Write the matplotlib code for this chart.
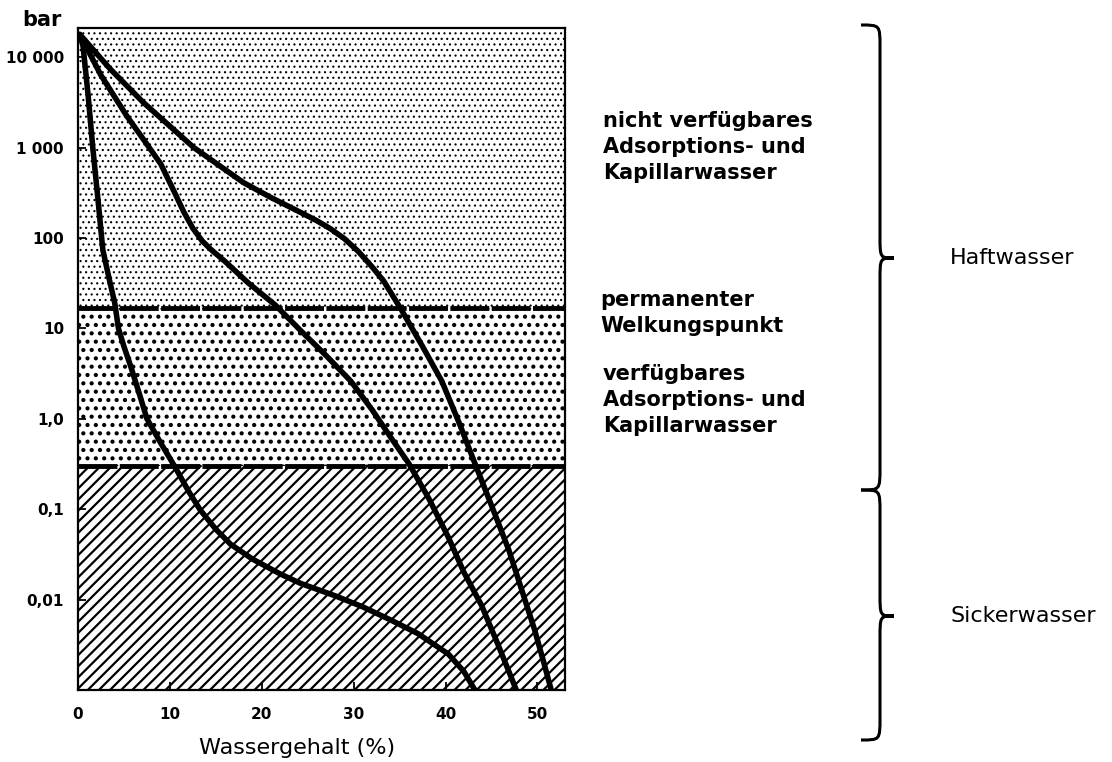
import matplotlib
matplotlib.use('Agg')
import matplotlib.pyplot as plt
from matplotlib.path import Path
from matplotlib.patches import PathPatch

# Saugspannung (bar) gegen Wassergehalt (%) fuer drei Boeden
sand_x = [0.2, 0.55, 1.1, 1.6, 2.2, 2.7, 3.4, 4.0, 4.4, 5.0, 5.7, 6.6, 7.5,
          9.0, 10.5, 12.0, 13.3, 15.0, 16.6, 19.0, 22.1, 24.3, 28.0, 31.0,
          34.1, 37.0, 40.3, 42.0, 43.2]
sand_y = [17800, 13200, 3800, 1020, 250, 74, 35, 19, 10, 6.3, 3.9, 2.0, 1.0,
          0.54, 0.30, 0.16, 0.098, 0.060, 0.041, 0.028, 0.019, 0.015, 0.011,
          0.0083, 0.0059, 0.0042, 0.0025, 0.0016, 0.001]

lehm_x = [0.2, 2.5, 5.3, 7.2, 9.0, 10.5, 11.5, 12.5, 13.5, 14.5, 16.0, 18.5,
          21.5, 24.3, 27.0, 29.7, 32.0, 34.0, 36.0, 38.2, 40.3, 42.0, 43.9,
          45.7, 47.7]
lehm_y = [17800, 6300, 2240, 1200, 660, 320, 195, 128, 93, 74, 55, 32,
          18, 9.3, 5.0, 2.6, 1.26, 0.63, 0.32, 0.13, 0.049, 0.020, 0.0087,
          0.0032, 0.001]

ton_x = [0.2, 3.5, 7.1, 12.6, 18.0, 21.0, 24.3, 26.0, 27.5, 29.0, 30.5, 32.0,
         33.3, 35.2, 37.5, 39.6, 41.5, 43.2, 45.0, 46.9, 48.5, 49.7, 50.7,
         51.5]
ton_y = [17800, 7400, 3160, 1000, 410, 280, 190, 155, 126, 98, 71, 48,
         33, 16, 6.3, 2.6, 0.89, 0.32, 0.11, 0.035, 0.011, 0.0046, 0.002,
         0.001]

# Grenzen: permanenter Welkungspunkt und Feldkapazitaet
pwp = 17
fk = 0.3

ytick_vals = [10000, 1000, 100, 10, 1, 0.1, 0.01]
ytick_labels = ['10 000', '1 000', '100', '10', '1,0', '0,1', '0,01']
xtick_vals = [0, 10, 20, 30, 40, 50]

W, H = 1112, 762
fig = plt.figure(figsize=(W / 100, H / 100), dpi=100)
ax = fig.add_axes([78 / W, 1 - 690 / H, (565 - 78) / W, (690 - 28) / H])
ax.set_yscale('log')
ax.set_xlim(0, 53)
ax.set_ylim(1e-3, 2.1e4)

# Flaechen mit Raster
with plt.rc_context({'hatch.linewidth': 0.8}):
    ax.axhspan(pwp, 2.1e4, facecolor='white', edgecolor='black', lw=0,
               hatch='...', zorder=0)
with plt.rc_context({'hatch.linewidth': 1.8}):
    ax.axhspan(fk, pwp, facecolor='white', edgecolor='black', lw=0,
               hatch='..', zorder=0)
with plt.rc_context({'hatch.linewidth': 1.6}):
    ax.axhspan(1e-3, fk, facecolor='white', edgecolor='black', lw=0,
               hatch='///', zorder=0)

ax.axhline(pwp, color='black', lw=3.5, dashes=(8, 0.5), zorder=2)
ax.axhline(fk, color='black', lw=3.5, dashes=(8, 0.5), zorder=2)

for xs, ys in [(sand_x, sand_y), (lehm_x, lehm_y), (ton_x, ton_y)]:
    ax.plot(xs, ys, color='black', lw=4, solid_capstyle='round',
            solid_joinstyle='round', zorder=3)

for s in ax.spines.values():
    s.set_linewidth(1.6)
ax.set_yticks(ytick_vals)
ax.set_yticklabels(ytick_labels)
ax.yaxis.set_minor_locator(matplotlib.ticker.NullLocator())
ax.set_xticks(xtick_vals)
ax.tick_params(direction='in', length=6, width=1.3, labelsize=11, pad=10)
ax.tick_params(axis='x', pad=12)
for lab in ax.get_xticklabels() + ax.get_yticklabels():
    lab.set_fontweight('bold')

fig.text(42 / W, 1 - 20 / H, 'bar', ha='center', va='center',
         fontsize=15, fontweight='bold')
fig.text(297 / W, 1 - 748 / H, 'Wassergehalt (%)', ha='center', va='center',
         fontsize=16)

fig.text(603 / W, 1 - 147 / H, 'nicht verfügbares\nAdsorptions- und\nKapillarwasser',
         ha='left', va='center', fontsize=15, fontweight='bold', linespacing=1.4)
fig.text(600 / W, 1 - 313 / H, 'permanenter\nWelkungspunkt',
         ha='left', va='center', fontsize=15, fontweight='bold', linespacing=1.4)
fig.text(603 / W, 1 - 400 / H, 'verfügbares\nAdsorptions- und\nKapillarwasser',
         ha='left', va='center', fontsize=15, fontweight='bold', linespacing=1.4)

fig.text(950 / W, 1 - 258 / H, 'Haftwasser', ha='left', va='center', fontsize=16)
fig.text(950 / W, 1 - 616 / H, 'Sickerwasser', ha='left', va='center', fontsize=16)


def brace(ya, yb, yt, xv=880, xe=861, xt=894, r=22):
    pts = [(xe, ya), (xv, ya), (xv, ya), (xv, ya + r),
           (xv, yt - r),
           (xv, yt), (xv, yt), (xt, yt),
           (xv, yt), (xv, yt), (xv, yt + r),
           (xv, yb - r),
           (xv, yb), (xv, yb), (xe, yb)]
    codes = [Path.MOVETO, Path.CURVE4, Path.CURVE4, Path.CURVE4,
             Path.LINETO,
             Path.CURVE4, Path.CURVE4, Path.CURVE4,
             Path.CURVE4, Path.CURVE4, Path.CURVE4,
             Path.LINETO,
             Path.CURVE4, Path.CURVE4, Path.CURVE4]
    pts = [(x / W, 1 - y / H) for x, y in pts]
    fig.add_artist(PathPatch(Path(pts, codes), fill=False, lw=2.2,
                             color='black', transform=fig.transFigure))


brace(25, 490, 258)
brace(490, 740, 616)

fig.savefig('out.png', dpi=100)
